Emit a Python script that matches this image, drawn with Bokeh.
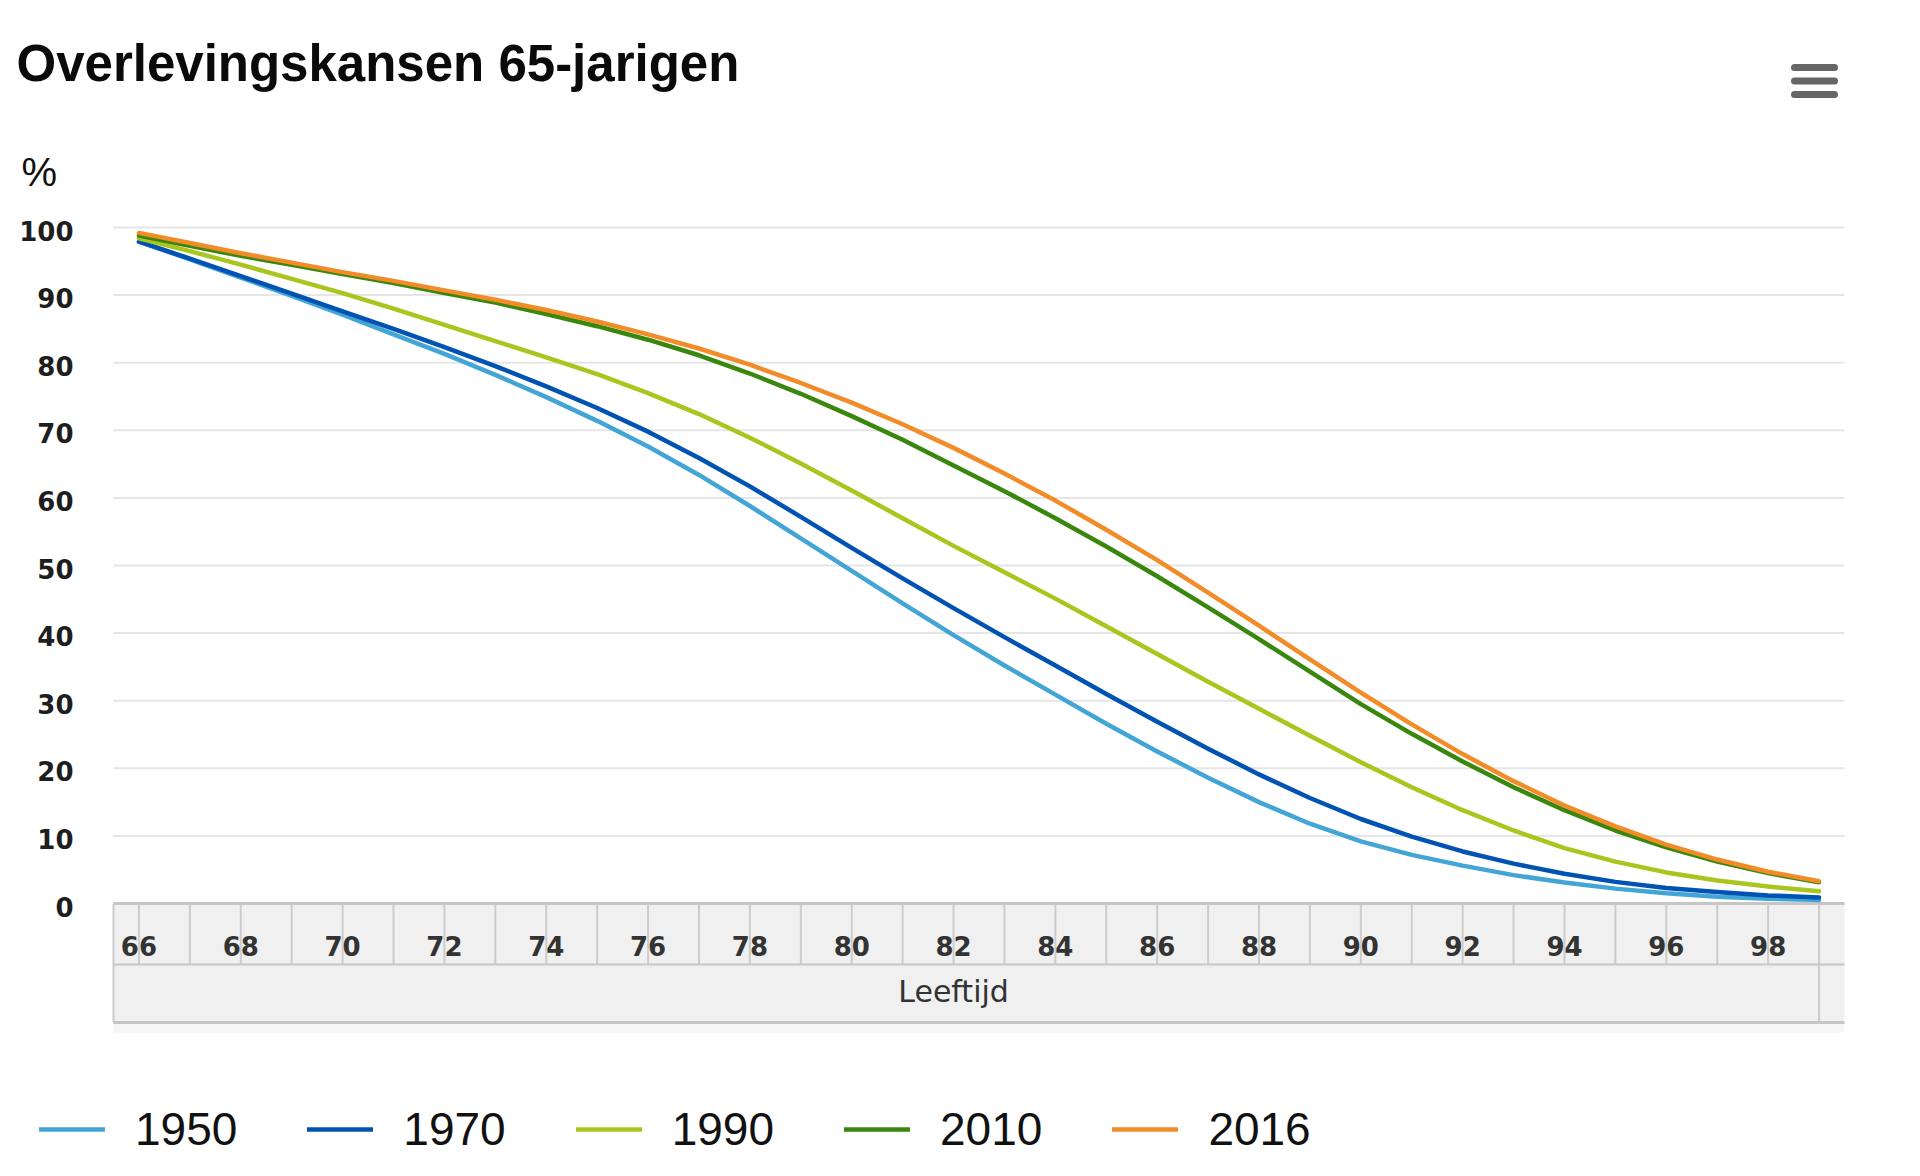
from bokeh.plotting import figure
from bokeh.models import Range1d, Legend, LegendItem
from bokeh.core.properties import value
from bokeh.embed import file_html
from bokeh.resources import INLINE

# ---------------- data ----------------
title_text = "Overlevingskansen 65-jarigen"
y_unit = "%"
x_title = "Leeftijd"
ages = list(range(66, 100))
age_tick_labels = [str(a) for a in ages[::2]]
y_ticks = [0, 10, 20, 30, 40, 50, 60, 70, 80, 90, 100]
y_tick_labels = [str(v) for v in y_ticks]
series_names = ["1950", "1970", "1990", "2010", "2016"]

s1950 = [97.9, 95.3, 92.6, 89.9, 87.1, 84.2, 81.3, 78.2, 74.9, 71.4, 67.6, 63.4,
         58.8, 54.0, 49.2, 44.4, 39.7, 35.2, 30.9, 26.6, 22.5, 18.6, 15.0, 11.8,
         9.2, 7.2, 5.6, 4.2, 3.1, 2.2, 1.5, 1.0, 0.7, 0.5]
s1970 = [97.9, 95.4, 92.8, 90.2, 87.6, 85.0, 82.3, 79.5, 76.5, 73.3, 69.8, 65.9,
         61.7, 57.2, 52.6, 48.1, 43.7, 39.4, 35.2, 31.0, 26.9, 22.9, 19.1, 15.6,
         12.5, 9.9, 7.7, 5.9, 4.4, 3.2, 2.3, 1.7, 1.2, 0.9]
s1990 = [98.4, 96.5, 94.5, 92.4, 90.3, 88.0, 85.6, 83.2, 80.8, 78.3, 75.5, 72.4,
         68.9, 65.1, 61.1, 57.0, 52.9, 49.0, 45.1, 41.0, 36.9, 32.8, 28.8, 24.8,
         20.9, 17.2, 13.8, 10.8, 8.2, 6.2, 4.6, 3.4, 2.5, 1.8]
s2010 = [98.8, 97.3, 95.8, 94.5, 93.1, 91.8, 90.3, 88.9, 87.2, 85.4, 83.4, 81.1,
         78.4, 75.4, 72.1, 68.6, 64.8, 61.0, 57.0, 52.8, 48.4, 43.8, 39.1, 34.3,
         29.5, 25.1, 21.0, 17.2, 13.8, 10.8, 8.3, 6.2, 4.5, 3.15]
s2016 = [99.2, 97.7, 96.2, 94.8, 93.4, 92.1, 90.7, 89.3, 87.8, 86.1, 84.2, 82.1,
         79.7, 77.0, 74.1, 70.9, 67.4, 63.6, 59.6, 55.3, 50.8, 46.0, 41.1, 36.1,
         31.2, 26.5, 22.1, 18.1, 14.5, 11.4, 8.7, 6.5, 4.7, 3.3]
series_values = [s1950, s1970, s1990, s2010, s2016]
series_colors = ["#42a5d5", "#0053b3", "#a9c61f", "#39870c", "#f28c28"]

# ---------------- page geometry (pixels) ----------------
W, H = 1920, 1176
PLOT_L_PX, PLOT_R_PX = 113, 1844        # plot area: age range +- half a category
Y0_PX, Y100_PX = 903, 227               # pixel rows of 0 % and 100 %
x0 = ages[0] - 0.5
x1 = ages[-1] + 0.5
kx = (PLOT_R_PX - PLOT_L_PX) / (x1 - x0)
ky = (Y0_PX - Y100_PX) / 100.0


def px2x(px):
    return x0 + (px - PLOT_L_PX) / kx


def px2y(py):
    return (Y0_PX - py) / ky


ROW1, ROW2, SHADOW = px2y(964), px2y(1022), px2y(1032)

p = figure(width=W, height=H, min_border=0,
           x_range=Range1d(px2x(0), px2x(W)), y_range=Range1d(px2y(H), px2y(0)),
           x_axis_location=None, y_axis_location=None,
           output_backend="svg", toolbar_location=None, title=None)
p.grid.visible = False
p.outline_line_color = None
p.background_fill_color = "white"
p.border_fill_color = "white"

# header: title, unit, export-menu icon
p.text(x=[px2x(16)], y=[px2y(63)], text=[title_text], text_align="left",
       text_baseline="alphabetic", text_font=value("Liberation Sans"),
       text_font_style="bold", text_font_size="51px", text_color="#0a0a0a")
p.text(x=[px2x(21)], y=[px2y(171)], text=[y_unit], text_align="left",
       text_baseline="alphabetic", text_font=value("Liberation Sans"),
       text_font_size="40px", text_color="#111111")
menu_y = [px2y(67), px2y(80.5), px2y(94)]
p.segment(x0=[px2x(1794)] * 3, y0=menu_y, x1=[px2x(1834)] * 3, y1=menu_y,
          line_color="#666666", line_width=7, line_cap="round")

# y grid + y tick labels
p.segment(x0=[x0] * (len(y_ticks) - 1), y0=y_ticks[1:], x1=[x1] * (len(y_ticks) - 1),
          y1=y_ticks[1:], line_color="#e6e6e6", line_width=2)
p.text(x=[px2x(73)] * len(y_ticks), y=y_ticks, text=y_tick_labels, y_offset=3,
       text_align="right", text_baseline="middle", text_font=value("DejaVu Sans"),
       text_font_style="bold", text_font_size="26px", text_color="#1e1e1e")

# category table under the plot
p.quad(left=[x0], right=[x1], bottom=[ROW2], top=[0], fill_color="#f0f0f0", line_color=None)
p.quad(left=[x0], right=[x1], bottom=[SHADOW], top=[ROW2], fill_color="#f6f6f6", line_color=None)
p.segment(x0=ages, y0=[0] * len(ages), x1=ages, y1=[ROW1] * len(ages),
          line_color="#cccccc", line_width=2)
p.segment(x0=[x0, ages[-1]], y0=[0, ROW1], x1=[x0, ages[-1]], y1=[ROW2, ROW2],
          line_color="#cccccc", line_width=2)
p.segment(x0=[x0] * 3, y0=[0, ROW1, ROW2], x1=[x1] * 3, y1=[0, ROW1, ROW2],
          line_color="#c6c6c6", line_width=[3, 2, 3])
p.text(x=ages[::2], y=[px2y(945)] * len(age_tick_labels), text=age_tick_labels,
       text_align="center", text_baseline="middle",
       text_font=value("DejaVu Sans"), text_font_style="bold",
       text_font_size="26px", text_color="#333333")
p.text(x=[(ages[0] - 1 + ages[-1]) / 2], y=[px2y(991)], text=[x_title],
       text_align="center", text_baseline="middle",
       text_font=value("DejaVu Sans"), text_font_size="30px", text_color="#333333")

# series
renderers = []
for vals, col in zip(series_values, series_colors):
    r = p.line(ages, vals, line_color=col, line_width=4.5,
               line_join="round", line_cap="round")
    renderers.append(r)

legend = Legend(items=[LegendItem(label=n, renderers=[r]) for n, r in zip(series_names, renderers)],
                orientation="horizontal", location=(39, H - 1156))
legend.glyph_width = 66
legend.glyph_height = 46
legend.label_height = 46
legend.label_standoff = 30
legend.spacing = 70
legend.padding = 0
legend.margin = 0
legend.border_line_color = None
legend.background_fill_alpha = 0
legend.label_text_font = "Liberation Sans"
legend.label_text_font_size = "46px"
legend.label_text_color = "#111111"
p.add_layout(legend)

open("out.html", "w").write(file_html(p, INLINE))
